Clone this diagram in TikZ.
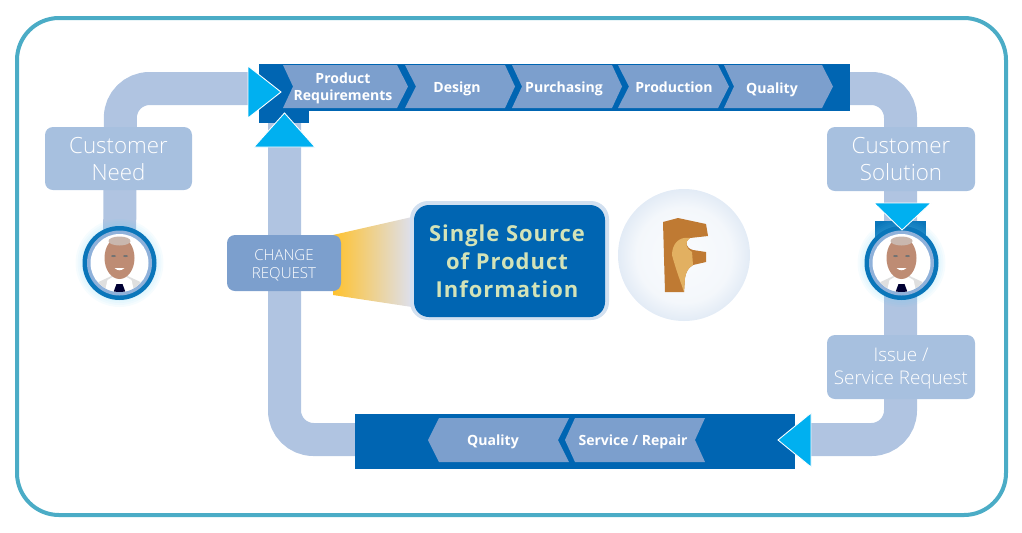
\documentclass[tikz,border=0pt]{standalone}
\usepackage{fontspec}
\setmainfont{Open Sans}
\newfontfamily\lightfont{Open Sans Light}
\newfontfamily\spacedfont[LetterSpace=4.5]{Open Sans}
\usetikzlibrary{positioning,shapes.geometric}
\definecolor{pipeblue}{HTML}{B0C4E1}
\definecolor{softblue}{HTML}{A7C0DF}
\definecolor{midblue}{HTML}{7C9FCD}
\definecolor{darkblue}{HTML}{0065B2}
\definecolor{arrowblue}{HTML}{00B0F0}
\definecolor{framecol}{HTML}{4BACC6}
\definecolor{ringblue}{HTML}{0A76BA}
\definecolor{ringlight}{HTML}{8FB1DA}
\definecolor{headline}{HTML}{D3E3B8}
\definecolor{logodark}{HTML}{BF7A33}
\definecolor{logolight}{HTML}{E2B061}
\definecolor{facecol}{HTML}{BE8C74}
\definecolor{beamstart}{HTML}{FFC22E}
\definecolor{beammid}{HTML}{F3E2C4}
\definecolor{beamend}{HTML}{DDE0EE}
\pgfdeclareradialshading{ballshade}{\pgfpoint{0bp}{0bp}}{color(0bp)=(white!95!ringlight); color(18bp)=(white!90!ringlight); color(28bp)=(white!68!ringlight); color(35.4bp)=(white!35!ringlight); color(50bp)=(white!35!ringlight)}
\tikzset{
  pipe/.style={line width=33*0.02cm,draw=pipeblue,rounded corners=0.58cm},
  softbox/.style={text=white,align=center,font=\lightfont\fontsize{12.7}{15.3}\selectfont},
  chev/.style={fill=midblue},
  chevtext/.style={text=white,align=center,font=\bfseries\fontsize{8}{10}\selectfont},
  tri/.style={fill=arrowblue,draw=white,line width=.5},
}
\newcommand{\drawperson}[1]{
  \begin{scope}[shift={(#1)}]
    \foreach \r in {38,40,42,44} \fill[cyan!60,opacity=.06] (0,0) circle [radius=\r*0.02cm];
    \fill[ringblue] (0,0) circle [radius=37*0.02cm];
    \fill[ringlight] (0,0) circle [radius=32.5*0.02cm];
    \fill[white] (0,0) circle [radius=29*0.02cm];
    \begin{scope}
      \clip (0,0) circle [radius=29*0.02cm];
      \fill[gray!25] (-24,30) -- (-21,19) -- (-8,13) -- (8,13) -- (21,19) -- (24,30) -- cycle;
      \fill[white] (-15,30) -- (-12,17) -- (-5,13) -- (5,13) -- (12,17) -- (15,30) -- cycle;
      \fill[black!80!blue] (-3,21) -- (3,21) -- (6,29) -- (-6,29) -- cycle;
      \fill[facecol] (0,-5) ellipse [x radius=15*0.02cm,y radius=21*0.02cm];
      \fill[facecol!60!gray!60!white] (0,-22) ellipse [x radius=11*0.02cm,y radius=4.5*0.02cm];
      \fill[black!55] (-6,-7) ellipse [x radius=2.5*0.02cm,y radius=1*0.02cm] (6,-7) ellipse [x radius=2.5*0.02cm,y radius=1*0.02cm];
      \fill[white] (-5,5) .. controls (-2,8) and (2,8) .. (5,5) -- cycle;
    \end{scope}
  \end{scope}
}

\begin{document}
\begin{tikzpicture}[x=0.02cm,y=-0.02cm]
\useasboundingbox (0,0) rectangle (1022,532);
\draw[framecol,line width=4*0.02cm,rounded corners=0.84cm] (17,18) rectangle (1006,515);

% bars first, the pipes go under them
\coordinate (pipeTL) at (120.5,88.5);
\coordinate (pipeTR) at (900.5,88.5);
\coordinate (pipeBR) at (900.5,439.5);
\coordinate (pipeBL) at (284.5,439.5);
\coordinate (pipeUp) at (284.5,120);
\coordinate (pipeIn) at (255,88.5);
\coordinate (pipeOut) at (845,88.5);
\coordinate (pipeEnd) at (805,439.5);
\coordinate (pipeBack) at (360,439.5);
\coordinate (personLpos) at (119.5,263);
\coordinate (personRpos) at (901.5,263);

\draw[pipe] (personLpos) -- (pipeTL) -- (pipeIn);
\draw[pipe] (pipeOut) -- (pipeTR) -- (pipeBR) -- (pipeEnd);
\draw[pipe] (pipeBack) -- (pipeBL) -- (pipeUp);

\fill[darkblue] (259,64) rectangle (850,111);
\fill[darkblue] (259,111) rectangle (309,123);
\fill[darkblue] (355,414) rectangle (795,469);
\fill[ringblue] (875,221) rectangle (926,240);

% top chevrons
\foreach \xa/\xb/\xc/\xd in {283/293/397/408,405/416/505/515,512/522/612/622,618/629/718/729,724/734/822/833}
  \fill[chev] (\xa,65) -- (\xc,65) -- (\xd,86.5) -- (\xc,108) -- (\xa,108) -- (\xb,86.5) -- cycle;
\node[chevtext] (reqText) at (343,88) {Product\\[-.5pt]Requirements};
\node[chevtext] (designText) at (457,88.5) {Design};
\node[chevtext] (purchText) at (564,88.5) {Purchasing};
\node[chevtext] (prodText) at (674,87.5) {Production};
\node[chevtext] (qualText) at (772,89.5) {Quality};

% bottom chevrons
\foreach \xa/\xb/\xc/\xd in {428/439/558/569,565/575/695/705}
  \fill[chev] (\xa,440) -- (\xb,418) -- (\xd,418) -- (\xc,440) -- (\xd,462) -- (\xb,462) -- cycle;
\node[chevtext] (qualBack) at (493,442) {Quality};
\node[chevtext] (serviceText) at (633,442) {Service / Repair};

% text boxes
\fill[softblue,rounded corners=0.16cm] (45,127) rectangle (192,190);
\node[softbox] (needBox) at (118.5,159) {Customer\\Need};
\fill[softblue,rounded corners=0.16cm] (827,127) rectangle (975,191);
\node[softbox] (solutionBox) at (901,159) {Customer\\Solution};
\fill[softblue,rounded corners=0.16cm] (827,335) rectangle (975,399);
\node[softbox,font=\lightfont\fontsize{10.7}{12.9}\selectfont] (issueBox) at (901,368.5) {Issue /\\Service Request};

\drawperson{personLpos}
\drawperson{personRpos}

% beam and centre box
\shade[left color=beamstart,middle color=beammid,right color=beamend] (333,235) -- (412,217) -- (412,307) -- (333,295) -- cycle;
\fill[midblue,rounded corners=0.16cm] (227,235) rectangle (341,291);
\node[text=white,align=center,font=\lightfont\fontsize{8.6}{10.4}\selectfont] (changeBox) at (284,265) {CHANGE\\REQUEST};
\fill[ringlight!40!white,rounded corners=0.36cm] (410,201) rectangle (609,320);
\fill[darkblue,rounded corners=0.3cm] (414,205) rectangle (605,317);
\node[text=headline,align=center,font=\spacedfont\bfseries\fontsize{12.5}{15.9}\selectfont] (sourceBox) at (507,261) {Single Source\\of Product\\Information};

% logo ball
\shade[shading=ballshade] (684,255) circle [radius=66*0.02cm];
\fill[logodark] (663,222) -- (678,218) -- (706,224) -- (708,236) -- (690,238) .. controls (684,242) and (686,248) .. (693,250) -- (706,252) -- (706,262) -- (693,265) .. controls (688,268) and (686,272) .. (685,278) -- (684,292) -- (665,292) -- cycle;
\fill[logolight] (690,238) .. controls (678,236) and (672,245) .. (672,255) .. controls (676,270) and (680,280) .. (684,292) -- (685,278) .. controls (686,272) and (688,268) .. (693,265) -- (692,252) .. controls (686,249) and (684,242) .. (690,238) -- cycle;

% arrow heads
\filldraw[tri] (248,66) -- (281,92) -- (248,118) -- cycle;
\filldraw[tri] (284.5,113) -- (315,147) -- (254,147) -- cycle;
\filldraw[tri] (874,203) -- (931,203) -- (902,230) -- cycle;
\filldraw[tri] (811,413) -- (811,467) -- (778,440) -- cycle;
\end{tikzpicture}
\end{document}
